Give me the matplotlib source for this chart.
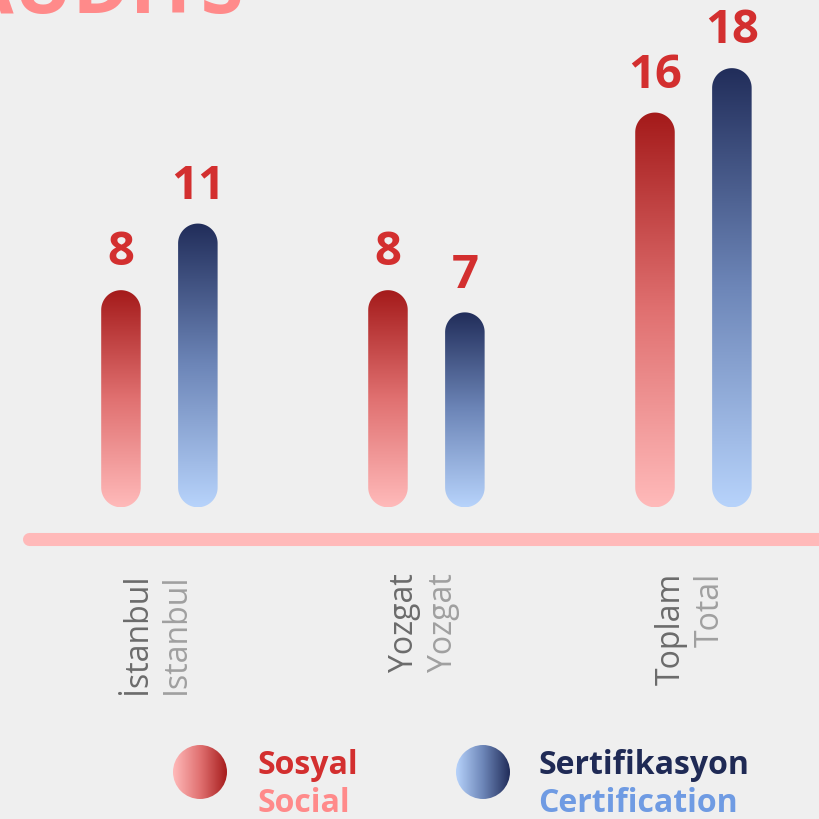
import numpy as np
import matplotlib.pyplot as plt
from matplotlib.colors import LinearSegmentedColormap
from matplotlib.patches import PathPatch, Circle
from matplotlib.path import Path
from matplotlib.transforms import IdentityTransform

plt.rcParams['font.family'] = ['Open Sans', 'DejaVu Sans']

# data
categories_tr = ['İstanbul', 'Yozgat', 'Toplam']
categories_en = ['Istanbul', 'Yozgat', 'Total']
sosyal = [8, 8, 16]
sertifikasyon = [11, 7, 18]

BG = '#efefef'
RED_CMAP = LinearSegmentedColormap.from_list('red', ['#ffbaba', '#e07070', '#a41a1a'])
BLUE_CMAP = LinearSegmentedColormap.from_list('blue', ['#b7d3fb', '#6d86b8', '#212d5a'])

fig = plt.figure(figsize=(8.2, 8.19), dpi=100, facecolor=BG)
ax = fig.add_axes([0, 0, 1, 1])
ax.set_facecolor(BG)
ax.set_xlim(-0.597, 2.474)
ax.set_ylim(-14.93, 21.96)
ax.axis('off')

BAR_W = 0.148
OFFSET = 0.144


def pill_bar(x, value, width, cmap):
    # gradient image clipped to a capsule, caps are true half circles (pixels)
    x0, y0 = ax.transData.transform((x - width / 2, 0))
    x1, y1 = ax.transData.transform((x + width / 2, value))
    r = (x1 - x0) / 2
    cx = (x0 + x1) / 2
    t_top = np.linspace(0, np.pi, 60)
    t_bot = np.linspace(np.pi, 2 * np.pi, 60)
    top = np.column_stack([cx + r * np.cos(t_top), y1 + r * np.sin(t_top)])
    bot = np.column_stack([cx + r * np.cos(t_bot), y0 + r * np.sin(t_bot)])
    verts = np.vstack([top, bot, top[:1]])
    clip = PathPatch(Path(verts, closed=True), transform=IdentityTransform())
    inv = ax.transData.inverted()
    bx0, by0 = inv.transform((x0, y0 - r))
    bx1, by1 = inv.transform((x1, y1 + r))
    grad = np.linspace(0, 1, 256).reshape(-1, 1)
    im = ax.imshow(grad, cmap=cmap, extent=(bx0, bx1, by0, by1), origin='lower',
                   aspect='auto', interpolation='bicubic')
    im.set_clip_path(clip)


def legend_dot(cx, cy, r, cmap):
    # cx, cy in pixels from top-left
    h = fig.bbox.height
    clip = Circle((cx, h - cy), r, transform=IdentityTransform())
    inv = ax.transData.inverted()
    bx0, by0 = inv.transform((cx - r, h - cy - r))
    bx1, by1 = inv.transform((cx + r, h - cy + r))
    grad = np.linspace(0, 1, 256).reshape(1, -1)
    im = ax.imshow(grad, cmap=cmap, extent=(bx0, bx1, by0, by1), origin='lower',
                   aspect='auto', interpolation='bicubic')
    im.set_clip_path(clip)


for i in range(len(categories_tr)):
    for xv, val, cmap in [(i - OFFSET, sosyal[i], RED_CMAP),
                          (i + OFFSET, sertifikasyon[i], BLUE_CMAP)]:
        pill_bar(xv, val, BAR_W, cmap)
        ax.annotate(str(val), (xv, val), xytext=(0, 32), textcoords='offset points',
                    ha='center', va='baseline', fontsize=34, fontweight='bold',
                    color='#d32f2f')
    ax.text(i - 0.0506, -3.85, categories_tr[i], rotation=90, rotation_mode='anchor',
            ha='right', va='baseline', fontsize=23, color='#6b6b6b')
    ax.text(i + 0.0955, -3.85, categories_en[i], rotation=90, rotation_mode='anchor',
            ha='right', va='baseline', fontsize=23, color='#a0a0a0')

# baseline
ax.plot([-0.49, 3.0], [-2.30, -2.30], color='#ffb9b9', lw=9.4,
        solid_capstyle='round', clip_on=False)

ax.set_xlim(-0.597, 2.474)
ax.set_ylim(-14.93, 21.96)

# legend
legend_dot(200, 772, 27, RED_CMAP)
legend_dot(483, 772, 27, BLUE_CMAP)
fig.text(258 / 820, 1 - 774 / 819, 'Sosyal', fontsize=23, fontweight='bold',
         color='#d32f2f', va='baseline')
fig.text(258 / 820, 1 - 812 / 819, 'Social', fontsize=23, fontweight='bold',
         color='#ff8a8a', va='baseline')
fig.text(538 / 820, 1 - 774 / 819, 'Sertifikasyon', fontsize=23, fontweight='bold',
         color='#1f2a55', va='baseline')
fig.text(538 / 820, 1 - 812 / 819, 'Certification', fontsize=23, fontweight='bold',
         color='#6f9be3', va='baseline')

# title, cut off by the top edge
fig.text(244 / 820, 1 - 12.7 / 819, 'AUDITS', ha='right', va='baseline', fontsize=56,
         fontweight='bold', color='#ff8a8a')

fig.savefig('out.png', dpi=100, facecolor=BG)
